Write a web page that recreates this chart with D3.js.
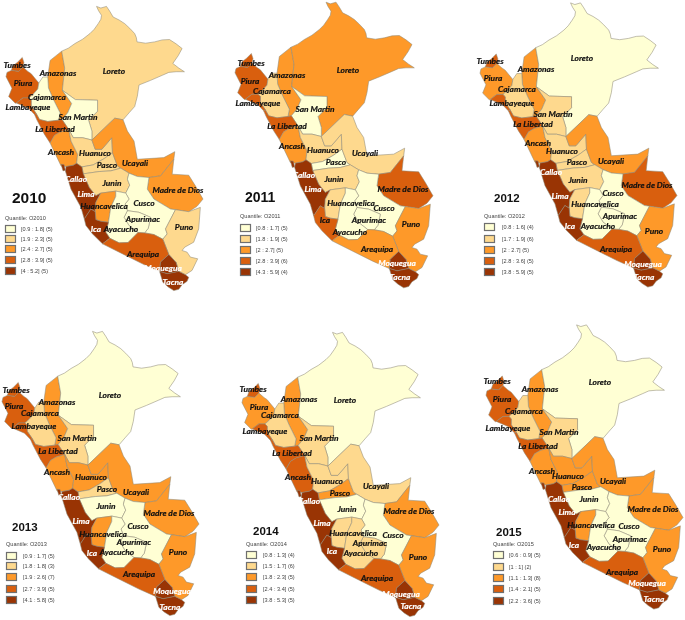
<!DOCTYPE html>
<html lang="en">
<head>
<meta charset="utf-8">
<title>Peru quantile maps 2010-2015</title>
<script src="https://d3js.org/d3.v7.min.js"></script>
<style>
body { margin: 0; background: #fff; }
svg { display: block; filter: blur(.35px); }
.dep { stroke: #8f8a78; stroke-width: .55; stroke-linejoin: round; }
.dep-label { font-family: Lato, "Open Sans", sans-serif; font-weight: 700; font-style: italic; font-size: 8.4px; text-anchor: middle; dominant-baseline: central; stroke-width: .2; }
.year { font-family: "Liberation Sans", Arial, sans-serif; font-weight: 700; fill: #111; }
.legend { font-family: "Liberation Sans", Arial, sans-serif; font-size: 5.6px; fill: #444; }
.swatch { stroke: #6f6f6f; stroke-width: 1.2; }
</style>
</head>
<body>
<div id="maps"></div>
<script>
var years = [2010, 2011, 2012, 2013, 2014, 2015]

var departments = ["Tumbes","Piura","Amazonas","Loreto","Cajamarca","Lambayeque","San Martin","La Libertad","Ancash","Huanuco","Pasco","Ucayali","Callao","Junin","Lima","Madre de Dios","Huancavelica","Cusco","Apurimac","Ayacucho","Ica","Puno","Arequipa","Moquegua","Tacna"]

var values2010 = [3.1,3.4,2.5,2.1,1.5,3.0,1.8,2.9,2.6,2.0,1.9,2.7,4.4,2.2,5.2,2.4,2.5,1.6,0.9,1.2,4.1,2.3,3.9,4.0,4.6]
var values2011 = [3.0,3.5,2.4,2.2,1.8,3.2,1.7,2.9,2.6,1.9,1.5,1.8,4.6,1.9,5.9,3.9,1.8,1.4,0.8,1.1,2.8,2.0,2.7,4.3,5.0]
var values2012 = [3.0,2.3,2.2,1.6,1.8,3.6,1.9,2.8,2.6,1.8,1.7,2.0,4.2,1.9,5.9,3.2,1.7,1.4,0.8,1.1,3.8,2.7,3.1,4.0,5.1]
var values2013 = [2.9,3.2,2.2,1.7,1.8,3.9,1.8,2.7,2.4,2.0,1.8,2.1,4.4,1.6,5.8,2.6,1.9,1.3,0.9,1.1,4.1,2.5,3.5,4.2,5.0]
var values2014 = [2.5,2.1,1.9,1.3,1.6,3.4,1.7,2.4,2.9,1.5,1.8,1.6,4.2,1.2,5.3,2.3,1.7,1.0,1.6,1.5,3.8,2.0,3.1,4.0,4.7]
var values2015 = [1.5,1.9,1.2,0.9,1.0,2.1,1.0,1.4,1.3,1.1,1.1,1.2,2.6,0.8,3.6,1.3,1.1,0.7,0.6,0.6,2.2,1.3,1.7,2.4,3.0]
var valuesByYear = [values2010, values2011, values2012, values2013, values2014, values2015]

// lower bound of classes 2 to 5, from the legends
var breaks2010 = [1.9,2.4,2.8,4.0]
var breaks2011 = [1.8,2.0,2.8,4.3]
var breaks2012 = [1.7,2.0,2.8,3.8]
var breaks2013 = [1.8,1.9,2.7,4.1]
var breaks2014 = [1.5,1.8,2.4,3.8]
var breaks2015 = [1.0,1.1,1.4,2.2]
var breaksByYear = [breaks2010, breaks2011, breaks2012, breaks2013, breaks2014, breaks2015]

var legend2010 = ["[0.9 : 1.8] (5)","[1.9 : 2.3] (5)","[2.4 : 2.7] (5)","[2.8 : 3.9] (5)","[4 : 5.2] (5)"]
var legend2011 = ["[0.8 : 1.7] (5)","[1.8 : 1.9] (5)","[2 : 2.7] (5)","[2.8 : 3.9] (6)","[4.3 : 5.9] (4)"]
var legend2012 = ["[0.8 : 1.6] (4)","[1.7 : 1.9] (6)","[2 : 2.7] (5)","[2.8 : 3.6] (5)","[3.8 : 5.9] (5)"]
var legend2013 = ["[0.9 : 1.7] (5)","[1.8 : 1.8] (3)","[1.9 : 2.6] (7)","[2.7 : 3.9] (5)","[4.1 : 5.8] (5)"]
var legend2014 = ["[0.8 : 1.3] (4)","[1.5 : 1.7] (6)","[1.8 : 2.3] (5)","[2.4 : 3.4] (5)","[3.8 : 5.3] (5)"]
var legend2015 = ["[0.6 : 0.9] (5)","[1 : 1] (2)","[1.1 : 1.3] (8)","[1.4 : 2.1] (5)","[2.2 : 3.6] (5)"]
var legendByYear = [legend2010, legend2011, legend2012, legend2013, legend2014, legend2015]

var classColors = ["#ffffd4","#fed98e","#fe9929","#d95f0e","#993404"]

// department outlines, traced in map units, same order as departments
var outlines = [
[[75,202],[80,188],[93,178],[108,163],[113,178],[110,192],[97,205]],
[[75,202],[97,205],[110,192],[125,205],[135,212],[158,240],[155,258],[140,275],[128,285],[110,285],[90,300],[87,301],[67,281],[77,256],[59,221],[62,208]],
[[185,222],[192,172],[227,144],[236,195],[229,262],[257,302],[245,330],[228,350],[218,352],[222,330],[202,290],[187,255]],
[[227,144],[247,135],[267,121],[290,108],[312,91],[325,78],[337,61],[345,48],[347,36],[338,22],[332,9],[345,14],[362,9],[372,24],[382,41],[400,50],[417,61],[432,75],[447,91],[452,103],[454,116],[480,120],[507,116],[530,110],[552,109],[572,122],[590,136],[578,158],[562,181],[580,195],[597,206],[572,206],[550,208],[532,216],[495,232],[460,246],[455,280],[447,311],[430,330],[412,351],[387,346],[318,412],[318,385],[308,352],[335,325],[335,292],[268,290],[229,262],[236,195]],
[[158,240],[170,222],[185,222],[187,255],[202,290],[222,330],[218,352],[185,356],[160,350],[150,332],[135,310],[135,292],[128,285],[140,275],[155,258]],
[[90,300],[110,285],[128,285],[135,292],[135,310],[150,332],[145,335],[127,316]],
[[229,262],[268,290],[335,292],[335,325],[308,352],[318,385],[318,412],[290,405],[262,405],[248,380],[228,350],[245,330],[257,302]],
[[145,335],[150,332],[160,350],[185,356],[218,352],[228,350],[248,380],[222,388],[205,398],[192,421],[175,395],[152,351]],
[[192,421],[205,398],[222,388],[248,380],[255,415],[275,455],[272,482],[262,488],[240,492],[225,490]],
[[248,380],[262,405],[290,405],[318,412],[328,440],[348,440],[378,405],[380,450],[355,468],[322,487],[288,493],[272,482],[275,455],[255,415]],
[[380,450],[395,490],[405,497],[375,505],[340,507],[292,514],[288,493],[322,487],[355,468]],
[[387,346],[412,351],[425,385],[445,415],[455,470],[535,465],[568,447],[565,470],[525,520],[490,525],[455,522],[430,512],[405,497],[395,490],[380,450],[378,405],[348,440],[328,440],[318,412]],
[[225,485],[234,486],[238,503],[231,505]],
[[292,514],[340,507],[375,505],[405,497],[430,512],[425,530],[432,548],[420,572],[390,566],[345,572],[330,580],[310,555]],
[[240,492],[262,488],[272,482],[288,493],[292,514],[310,555],[330,580],[345,572],[330,600],[328,628],[315,620],[295,650],[285,615],[255,560],[238,505]],
[[565,470],[560,515],[610,518],[630,550],[653,590],[635,612],[610,628],[570,622],[555,620],[505,590],[485,560],[490,525],[525,520]],
[[345,572],[390,566],[390,582],[375,615],[368,660],[345,657],[330,652],[328,628],[330,600]],
[[430,512],[455,522],[490,525],[485,560],[505,590],[555,620],[570,622],[540,680],[545,695],[532,711],[505,697],[477,692],[488,678],[495,645],[460,630],[425,625],[418,605],[430,590],[420,572],[432,548],[425,530]],
[[425,625],[460,630],[495,645],[488,678],[477,692],[457,691],[430,670],[415,645]],
[[390,566],[420,572],[430,590],[418,605],[425,625],[415,645],[430,670],[457,691],[427,721],[400,722],[372,708],[360,690],[368,660],[375,615],[390,582]],
[[315,620],[328,628],[330,652],[345,657],[368,660],[360,690],[372,708],[350,725],[320,695],[300,670],[295,650]],
[[570,622],[610,628],[645,615],[640,680],[625,720],[598,735],[590,745],[605,750],[615,765],[637,770],[620,805],[600,818],[580,808],[572,781],[550,757],[532,711],[545,695],[540,680]],
[[372,708],[400,722],[427,721],[457,691],[477,692],[505,697],[532,711],[550,757],[525,780],[522,808],[472,786],[402,751],[350,725]],
[[550,757],[572,781],[580,808],[545,815],[522,808],[525,780]],
[[522,808],[545,815],[580,808],[600,818],[610,826],[605,838],[590,848],[580,862],[565,866],[548,855],[532,841]]
]

// where each panel sits on the page: left, top, right, bottom of the map
var mapBoxes = [[6,5,203,292],[235,2,433,288],[480,2,677,288],[2,330,199,617],[242,332,439,617],[486,324,683,610]]

// label centres on the page, same order as departments
var labelSpots = [
[[17,65],[23,83],[58,73],[114,71],[47,97],[28,107],[78,117],[55,129],[61,152],[95,153],[107,165],[135,163],[76,179],[112,183],[86,194],[178,190],[104,206],[144,203],[143,219],[121,229],[96,229],[184,227],[143,254],[163,268],[173,282]],
[[251,63],[250,81],[287,75],[348,70],[272,91],[258,103],[315,109],[287,126],[292,146],[323,150],[336,162],[365,153],[304,175],[334,179],[313,189],[403,189],[351,203],[384,208],[369,220],[350,232],[325,220],[411,224],[377,249],[397,263],[400,277]],
[[490,61],[493,78],[536,69],[582,58],[517,89],[512,103],[553,114],[533,124],[538,143],[562,151],[577,162],[611,161],[551,172],[578,180],[560,196],[647,185],[595,204],[613,193],[620,216],[598,226],[570,226],[654,231],[616,249],[643,264],[644,277]],
[[16,390],[14,406],[57,402],[110,395],[40,413],[34,426],[77,438],[58,451],[57,472],[91,477],[107,489],[136,492],[69,497],[106,506],[81,521],[169,513],[103,534],[138,526],[134,542],[117,552],[92,553],[178,552],[139,574],[172,591],[170,607]],
[[253,389],[259,407],[299,399],[345,400],[280,415],[265,431],[319,438],[292,453],[298,477],[327,481],[340,493],[376,486],[309,501],[347,509],[322,523],[409,511],[353,533],[393,535],[370,543],[361,553],[332,551],[418,557],[377,578],[401,594],[411,606]],
[[497,381],[502,399],[540,389],[600,382],[524,411],[508,428],[559,432],[538,446],[542,471],[568,476],[582,487],[613,481],[559,499],[589,499],[567,512],[653,509],[591,525],[629,526],[630,539],[604,547],[574,545],[662,549],[622,572],[647,583],[654,599]]
]

// year title: x, baseline, font size. legend: x of title and swatches, baseline of title, x of text, swatch centres
var titleSpots = [[12,203,15.5],[245,202,14],[494,202,11.5],[12,531,11.5],[253,535,11.5],[496,536,11.5]]
var legendSpots = [
{x:5, y:220, tx:21, rows:[229,239,249,260,271]},
{x:240, y:218, tx:256, rows:[228,239,250,261,272]},
{x:484, y:218, tx:502, rows:[227,239,250,261,272]},
{x:6, y:546, tx:23, rows:[556,566,577,589,600]},
{x:246, y:546, tx:263, rows:[555,566,577,589,600]},
{x:493, y:546, tx:509, rows:[555,567,578,589,601]}
]

var svg = d3.select("#maps").append("svg")
	.attr("width", 685)
	.attr("height", 620)

var shapes = {
	type: "FeatureCollection",
	features: outlines.map(function(ring, i) {
		return { type: "Feature", properties: { name: departments[i] },
			geometry: { type: "Polygon", coordinates: [ring.concat([ring[0]])] } }
	})
}

years.forEach(function(year, p) {
	var box = mapBoxes[p]
	var projection = d3.geoIdentity().fitExtent([[box[0], box[1]], [box[2], box[3]]], shapes)
	var path = d3.geoPath(projection)
	var color = d3.scaleThreshold().domain(breaksByYear[p]).range(classColors)
	var vals = valuesByYear[p]
	var panel = svg.append("g").attr("class", "panel")

	panel.selectAll("path")
		.data(shapes.features)
		.enter()
		.append("path")
		.attr("class", "dep")
		.attr("d", path)
		.attr("fill", function(d, i) { return color(vals[i]) })

	panel.selectAll("text.dep-label")
		.data(departments)
		.enter()
		.append("text")
		.attr("class", "dep-label")
		.attr("x", function(d, i) { return labelSpots[p][i][0] })
		.attr("y", function(d, i) { return labelSpots[p][i][1] })
		.attr("fill", function(d, i) { return color(vals[i]) == classColors[4] ? "#fff" : "#111" })
		.attr("stroke", function(d, i) { return color(vals[i]) == classColors[4] ? "#fff" : "#111" })
		.text(function(d) { return d })

	panel.append("text")
		.attr("class", "year")
		.attr("x", titleSpots[p][0])
		.attr("y", titleSpots[p][1])
		.style("font-size", titleSpots[p][2] + "px")
		.text(year)

	var lg = legendSpots[p]
	panel.append("text")
		.attr("class", "legend")
		.attr("x", lg.x)
		.attr("y", lg.y)
		.text("Quantile: O" + year)

	panel.selectAll("rect")
		.data(legendByYear[p])
		.enter()
		.append("rect")
		.attr("class", "swatch")
		.attr("x", lg.x + .5)
		.attr("y", function(d, i) { return lg.rows[i] - 3.5 })
		.attr("width", 10)
		.attr("height", 7)
		.attr("fill", function(d, i) { return classColors[i] })

	panel.selectAll("text.legend-row")
		.data(legendByYear[p])
		.enter()
		.append("text")
		.attr("class", "legend legend-row")
		.attr("x", lg.tx)
		.attr("y", function(d, i) { return lg.rows[i] + 2 })
		.text(function(d) { return d })
})
</script>
</body>
</html>
